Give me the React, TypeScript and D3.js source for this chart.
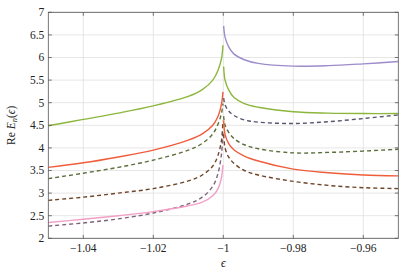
import React from "react";
import * as d3 from "d3";

const xLeft = [-1.05, -1.04, -1.03, -1.02, -1.01, -1.006, -1.003, -1.0015, -1.0005, -1.0001];
const xRight = [-0.9999, -0.9995, -0.9985, -0.997, -0.994, -0.99, -0.98, -0.97, -0.96, -0.95];

const greenLeft = [4.49, 4.63, 4.77, 4.93, 5.14, 5.29, 5.5, 5.72, 5.98, 6.27];
const redLeft = [3.57, 3.67, 3.8, 3.95, 4.17, 4.31, 4.5, 4.7, 4.98, 5.24];
const pinkLeft = [2.35, 2.42, 2.5, 2.59, 2.72, 2.8, 2.94, 3.1, 3.35, 3.62];
const oliveLeft = [3.32, 3.44, 3.57, 3.73, 3.95, 4.1, 4.31, 4.53, 4.77, 4.98];
const brownLeft = [2.84, 2.91, 3.0, 3.1, 3.27, 3.4, 3.6, 3.84, 4.18, 4.6];
const mauveLeft = [2.27, 2.34, 2.43, 2.56, 2.76, 2.91, 3.15, 3.44, 3.88, 4.4];

const purpleRight = [6.7, 6.45, 6.24, 6.08, 5.95, 5.87, 5.81, 5.82, 5.86, 5.91];
const greenRight = [5.8, 5.5, 5.29, 5.12, 4.98, 4.9, 4.8, 4.77, 4.76, 4.76];
const redRight = [4.6, 4.3, 4.1, 3.96, 3.82, 3.71, 3.53, 3.45, 3.4, 3.38];
const slateRight = [5.1, 4.95, 4.82, 4.72, 4.62, 4.57, 4.54, 4.58, 4.65, 4.73];
const oliveRight = [4.7, 4.5, 4.35, 4.21, 4.07, 3.98, 3.89, 3.9, 3.93, 3.97];
const brownRight = [4.3, 4.0, 3.8, 3.66, 3.5, 3.4, 3.26, 3.17, 3.12, 3.1];

const xTicks = [-1.04, -1.02, -1, -0.98, -0.96];
const yTicks = [2, 2.5, 3, 3.5, 4, 4.5, 5, 5.5, 6, 6.5, 7];

const series = [
  { xs: xLeft, ys: mauveLeft, color: "#7d6478", dash: true },
  { xs: xLeft, ys: brownLeft, color: "#6e4529", dash: true },
  { xs: xLeft, ys: oliveLeft, color: "#5b6e3b", dash: true },
  { xs: xRight, ys: slateRight, color: "#56566e", dash: true },
  { xs: xRight, ys: oliveRight, color: "#5b6e3b", dash: true },
  { xs: xRight, ys: brownRight, color: "#6e4529", dash: true },
  { xs: xLeft, ys: pinkLeft, color: "#f29ec6", dash: false },
  { xs: xLeft, ys: redLeft, color: "#f05d3b", dash: false },
  { xs: xRight, ys: redRight, color: "#f05d3b", dash: false },
  { xs: xLeft, ys: greenLeft, color: "#8cb63c", dash: false },
  { xs: xRight, ys: greenRight, color: "#8cb63c", dash: false },
  { xs: xRight, ys: purpleRight, color: "#9d8ccb", dash: false },
];

const fmt = (v: number) => {
  const s = String(Math.abs(v));
  return (v < 0 ? "\u2212" : "") + s;
};

export default function App() {
  const W = 415, H = 272;
  const L = 48.3, R = 398.3, T = 12.3, B = 238.3;
  const x = d3.scaleLinear().domain([-1.05, -0.95]).range([L, R]);
  const y = d3.scaleLinear().domain([2, 7]).range([B, T]);
  const line = d3
    .line<[number, number]>()
    .x((d) => x(d[0]))
    .y((d) => y(d[1]))
    .curve(d3.curveCatmullRom.alpha(0.5));
  const font = "Liberation Serif, DejaVu Serif, serif";
  const tl = 3.5;
  return (
    <svg width={W} height={H} style={{ position: "absolute", left: 0, top: 0 }}>
      <rect width={W} height={H} fill="#fff" />
      <g stroke="#e0e0e0" strokeWidth={0.8}>
        {xTicks.map((t) => (
          <line key={"gx" + t} x1={x(t)} x2={x(t)} y1={T} y2={B} />
        ))}
        {yTicks.map((t) => (
          <line key={"gy" + t} x1={L} x2={R} y1={y(t)} y2={y(t)} />
        ))}
      </g>
      <defs>
        <clipPath id="clip">
          <rect x={L} y={T} width={R - L} height={B - T} />
        </clipPath>
      </defs>
      <g clipPath="url(#clip)" fill="none">
        {series.map((s, i) => (
          <path
            key={i}
            d={line(s.xs.map((v, j) => [v, s.ys[j]] as [number, number])) || ""}
            stroke={s.color}
            strokeWidth={1.4}
            strokeDasharray={s.dash ? "4 3" : undefined}
          />
        ))}
      </g>
      <g stroke="#555" strokeWidth={0.8}>
        {xTicks.map((t) => (
          <g key={"tx" + t}>
            <line x1={x(t)} x2={x(t)} y1={B} y2={B - tl} />
            <line x1={x(t)} x2={x(t)} y1={T} y2={T + tl} />
          </g>
        ))}
        {yTicks.map((t) => (
          <g key={"ty" + t}>
            <line x1={L} x2={L + tl} y1={y(t)} y2={y(t)} />
            <line x1={R} x2={R - tl} y1={y(t)} y2={y(t)} />
          </g>
        ))}
        <rect x={L} y={T} width={R - L} height={B - T} fill="none" />
      </g>
      <g style={{ fontFamily: font }} fontSize={11.5} fill="#222">
        {xTicks.map((t) => (
          <text key={"lx" + t} x={x(t)} y={B + 14} textAnchor="middle">
            {fmt(t)}
          </text>
        ))}
        {yTicks.map((t) => (
          <text key={"ly" + t} x={L - 4} y={y(t) + 3.8} textAnchor="end">
            {String(t)}
          </text>
        ))}
        <text x={x(-1)} y={B + 29} textAnchor="middle" fontStyle="italic">
          ϵ
        </text>
        <text transform={`translate(15, ${(T + B) / 2}) rotate(-90)`} textAnchor="middle">
          Re <tspan fontStyle="italic">E</tspan>
          <tspan fontStyle="italic" fontSize={8.5} dy={2}>n</tspan>
          <tspan dy={-2}>(</tspan>
          <tspan fontStyle="italic">ϵ</tspan>
          <tspan>)</tspan>
        </text>
      </g>
    </svg>
  );
}
